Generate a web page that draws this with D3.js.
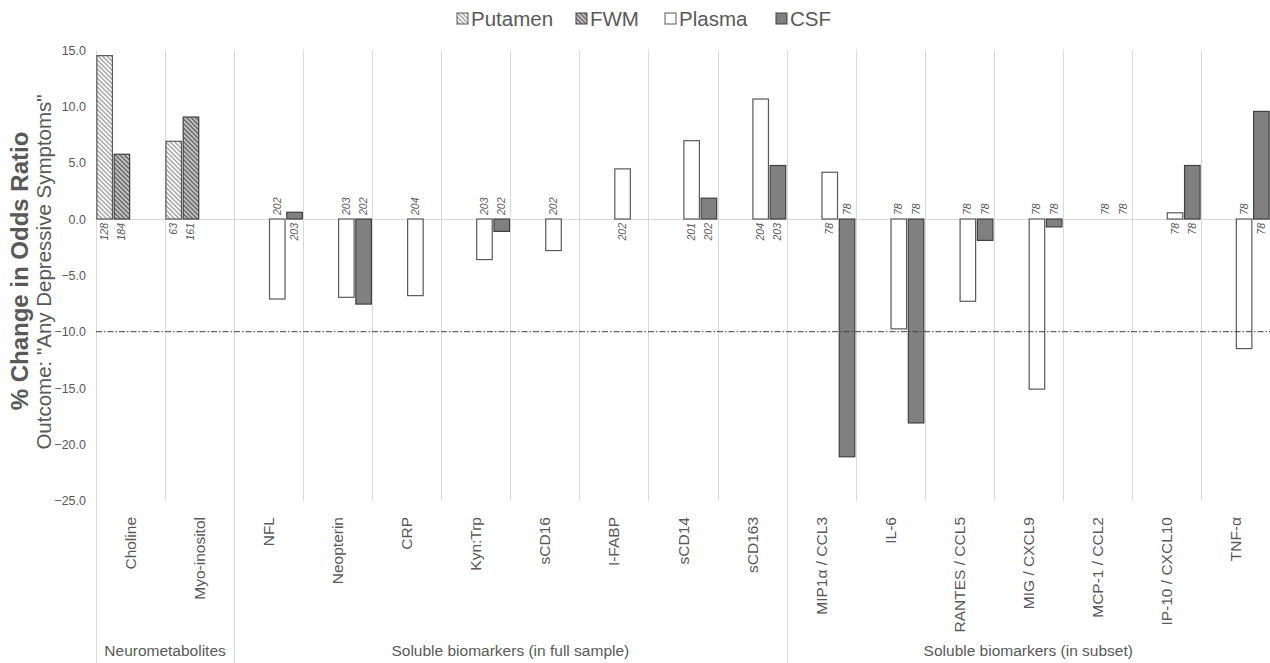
<!DOCTYPE html>
<html><head><meta charset="utf-8">
<script src="https://cdn.jsdelivr.net/npm/d3@7"></script>
<style>html,body{margin:0;padding:0;background:#fff;}svg{display:block;font-family:"Liberation Sans",Arial,sans-serif;}</style>
</head><body>
<svg id="c" width="1270" height="663"></svg>
<script>
const categories = ["Choline","Myo-inositol","NFL","Neopterin","CRP","Kyn:Trp","sCD16","I-FABP","sCD14","sCD163","MIP1α / CCL3","IL-6","RANTES / CCL5","MIG / CXCL9","MCP-1 / CCL2","IP-10 / CXCL10","TNF-α"];
const groupNames = ["Neurometabolites","Soluble biomarkers (in full sample)","Soluble biomarkers (in subset)"];
const groupSizes = [2, 8, 7];
const seriesNames = ["Putamen","FWM","Plasma","CSF"];
const putamen = [14.5, 6.9, null,null,null,null,null,null,null,null,null,null,null,null,null,null,null];
const fwm     = [5.75, 9.05, null,null,null,null,null,null,null,null,null,null,null,null,null,null,null];
const plasma  = [null,null, -7.1, -6.95, -6.8, -3.6, -2.8, 4.45, 6.95, 10.65, 4.15, -9.75, -7.3, -15.1, 0, 0.55, -11.5];
const csf     = [null,null, 0.6, -7.55, null, -1.1, null, null, 1.85, 4.75, -21.1, -18.1, -1.9, -0.7, 0, 4.75, 9.55];
const nPutamen = [128, 63, null,null,null,null,null,null,null,null,null,null,null,null,null,null,null];
const nFwm     = [184, 161, null,null,null,null,null,null,null,null,null,null,null,null,null,null,null];
const nPlasma  = [null,null,202,203,204,203,202,202,201,204,78,78,78,78,78,78,78];
const nCsf     = [null,null,203,202,null,202,null,null,202,203,78,78,78,78,78,78,78];
const yTicks = [15,10,5,0,-5,-10,-15,-20,-25];
const refLine = -10;

const values = [putamen, fwm, plasma, csf];
const counts = [nPutamen, nFwm, nPlasma, nCsf];
const textColor = "#595959";
const gridColor = "#d9d9d9";

const svg = d3.select("#c");
const defs = svg.append("defs");
const p1 = defs.append("pattern").attr("id","hatchLight").attr("patternUnits","userSpaceOnUse")
  .attr("width",3.2).attr("height",3.2).attr("patternTransform","rotate(-45)");
p1.append("rect").attr("width",3.2).attr("height",3.2).attr("fill","#ffffff");
p1.append("line").attr("x1",0.8).attr("y1",0).attr("x2",0.8).attr("y2",3.2).attr("stroke","#9a9a9a").attr("stroke-width",1.3);
const p2 = defs.append("pattern").attr("id","hatchDark").attr("patternUnits","userSpaceOnUse")
  .attr("width",3.2).attr("height",3.2).attr("patternTransform","rotate(-45)");
p2.append("rect").attr("width",3.2).attr("height",3.2).attr("fill","#c4c4c4");
p2.append("line").attr("x1",0.8).attr("y1",0).attr("x2",0.8).attr("y2",3.2).attr("stroke","#666666").attr("stroke-width",1.4);

const fills = ["url(#hatchLight)","url(#hatchDark)","#ffffff","#808080"];
const strokes = ["#595959","#404040","#595959","#404040"];

const x = d3.scaleBand().domain(categories).range([96,1270]).paddingInner(0).paddingOuter(0);
const xs = d3.scaleBand().domain(seriesNames).range([0,x.bandwidth()]).paddingInner(0.1).paddingOuter(0.05);
const y = d3.scaleLinear().domain([-25,15]).range([500.7,50]);

const catEnds = [];
let acc = 0; groupSizes.forEach(s=>{acc+=s; catEnds.push(acc);});
categories.forEach((c,i)=>{
  const xl = Math.round(x(c))+0.5;
  const isGroupStart = i===0 || catEnds.includes(i);
  svg.append("line").attr("x1",xl).attr("x2",xl).attr("y1",y(15)).attr("y2", isGroupStart?663:y(-25))
    .attr("stroke",gridColor).attr("stroke-width",1);
});

svg.append("line").attr("x1",96).attr("x2",1270).attr("y1",Math.round(y(0))+0.5).attr("y2",Math.round(y(0))+0.5)
  .attr("stroke",gridColor).attr("stroke-width",1.2);

const yAxis = d3.axisLeft(y).tickValues(yTicks).tickFormat(d3.format(".1f")).tickSize(0).tickPadding(0);
const ya = svg.append("g").attr("transform","translate(86,0)").call(yAxis);
ya.select(".domain").remove();
ya.selectAll("text").attr("fill",textColor).attr("font-size",12.5).attr("font-family","'Liberation Sans',Arial,sans-serif");

seriesNames.forEach((s,si)=>{
  const g = svg.append("g");
  categories.forEach((c,i)=>{
    const v = values[si][i];
    if(v===null || v===0) return;
    const bx = x(c)+xs(s);
    g.append("rect").attr("x",bx).attr("width",xs.bandwidth())
      .attr("y",y(Math.max(0,v))).attr("height",Math.abs(y(v)-y(0)))
      .attr("fill",fills[si]).attr("stroke",strokes[si]).attr("stroke-width",1.2);
  });
});

svg.append("line").attr("x1",96).attr("x2",1270).attr("y1",y(refLine)).attr("y2",y(refLine))
  .attr("stroke","#404040").attr("stroke-width",1).attr("stroke-dasharray","6,2,1.5,2");

seriesNames.forEach((s,si)=>{
  categories.forEach((c,i)=>{
    const n = counts[si][i];
    if(n===null) return;
    const v = values[si][i];
    const cx = x(c)+xs(s)+xs.bandwidth()/2;
    const above = v<=0;
    const ty = above ? y(0)-4 : y(0)+4;
    svg.append("text").attr("transform",`translate(${cx+3.5},${ty}) rotate(-90)`)
      .attr("text-anchor", above?"start":"end")
      .attr("font-size",10.5).attr("font-style","italic").attr("fill",textColor).text(n);
  });
});

categories.forEach(c=>{
  const cx = x(c)+x.bandwidth()/2;
  svg.append("text").attr("transform",`translate(${cx+5.5},517) rotate(-90)`)
    .attr("text-anchor","end").attr("font-size",15.5).attr("fill",textColor).text(c);
});

let start = 0;
groupNames.forEach((gname,gi)=>{
  const a = x(categories[start]);
  const b = x(categories[start+groupSizes[gi]-1])+x.bandwidth();
  svg.append("text").attr("x",(a+b)/2).attr("y",656).attr("text-anchor","middle")
    .attr("font-size",15.5).attr("fill",textColor).text(gname);
  start += groupSizes[gi];
});

svg.append("text").attr("transform","translate(28,271) rotate(-90)").attr("text-anchor","middle")
  .attr("font-size",24).attr("font-weight","bold").attr("fill",textColor).text("% Change in Odds Ratio");
svg.append("text").attr("transform","translate(51,272) rotate(-90)").attr("text-anchor","middle")
  .attr("font-size",20.5).attr("fill",textColor).text('Outcome: "Any Depressive Symptoms"');

const legX = [457, 576, 665, 776];
const lg = svg.append("g");
seriesNames.forEach((s,si)=>{
  lg.append("rect").attr("x",legX[si]).attr("y",13).attr("width",11).attr("height",11)
    .attr("fill",fills[si]).attr("stroke",strokes[si]).attr("stroke-width",1);
  lg.append("text").attr("x",legX[si]+14).attr("y",26).attr("font-size",20.5).attr("fill",textColor).text(s);
});
</script>
</body></html>
